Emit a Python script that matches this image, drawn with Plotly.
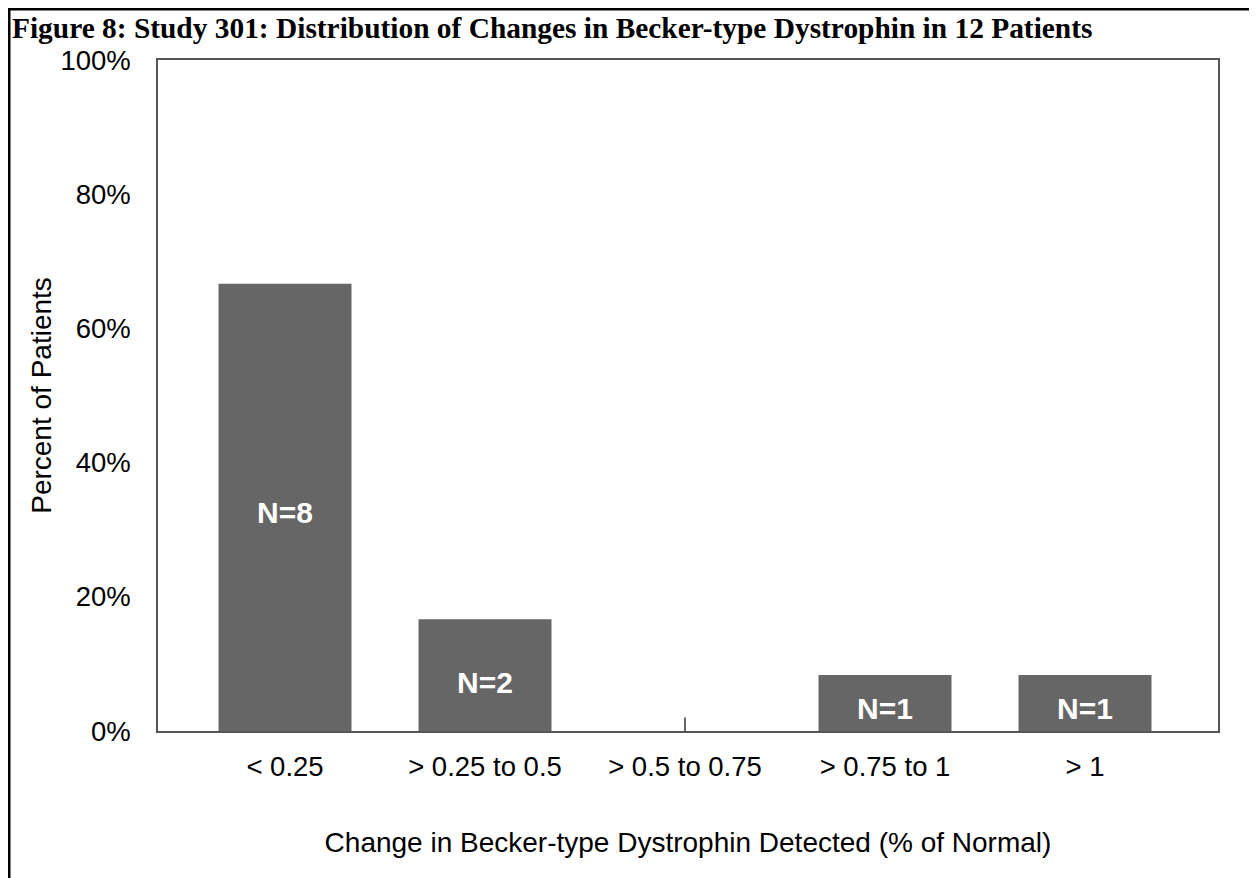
import plotly.graph_objects as go

categories = ["< 0.25", "> 0.25 to 0.5", "> 0.5 to 0.75", "> 0.75 to 1", "> 1"]
percent_patients = [66.67, 16.67, 0, 8.33, 8.33]
n_patients = [8, 2, 0, 1, 1]
y_tick_vals = [0, 20, 40, 60, 80, 100]
y_tick_text = ["0%", "20%", "40%", "60%", "80%", "100%"]

# page body adds an 8px offset; layout is compensated for it
OFF = 8
W, H = 1257, 878
L, T = 158 - OFF, 60 - OFF
R = W - (1218 - OFF)
B = H - (731 - OFF)
pw, ph = W - L - R, H - T - B

BAR = "#666666"
FONT = "Liberation Sans, Arial, Helvetica, sans-serif"

fig = go.Figure()
fig.add_trace(go.Bar(
    x=categories, y=percent_patients, width=0.665,
    marker=dict(color=BAR, line=dict(width=0)),
    hoverinfo="skip", showlegend=False,
))

# small zero-height marker for empty category
fig.add_trace(go.Scatter(
    x=[categories[2], categories[2]], y=[0, 2], mode="lines",
    line=dict(color="#333333", width=1.5), showlegend=False, hoverinfo="skip",
))

shifts = {8: -5, 2: -7, 1: -5}
annotations = []
for c, v, n in zip(categories, percent_patients, n_patients):
    if n > 0:
        annotations.append(dict(
            x=c, y=v / 2, xref="x", yref="y", text=f"<b>N={n}</b>",
            showarrow=False, yshift=shifts.get(n, -5),
            font=dict(family=FONT, size=30, color="white"),
        ))

# outer frame (top and left), drawn at the very edge of the figure
edge = 1.0
shapes = [
    dict(type="line", xref="paper", yref="paper",
         x0=(edge - L) / pw, x1=(W - L) / pw,
         y0=(H - B - edge) / ph, y1=(H - B - edge) / ph,
         line=dict(color="black", width=3)),
    dict(type="line", xref="paper", yref="paper",
         x0=(edge - L) / pw, x1=(edge - L) / pw,
         y0=(H - B) / ph, y1=-B / ph,
         line=dict(color="black", width=3)),
]

fig.update_layout(
    width=W, height=H,
    margin=dict(l=L, r=R, t=T, b=B),
    paper_bgcolor="white", plot_bgcolor="white",
    title=dict(
        text="<b>Figure 8: Study 301: Distribution of Changes in Becker-type Dystrophin in 12 Patients</b>",
        x=(12 - OFF) / W, xanchor="left", xref="container",
        y=1 - (28 - OFF) / H, yanchor="middle", yref="container",
        font=dict(family="Liberation Serif, Times New Roman, serif", size=29.4, color="black"),
    ),
    xaxis=dict(
        range=[-0.635, 4.665],
        showline=True, linecolor="#555555", linewidth=1.5, mirror=True,
        ticks="", showgrid=False, ticklabelstandoff=10,
        tickfont=dict(family=FONT, size=27.5, color="black"),
        title=dict(text="Change in Becker-type Dystrophin Detected (% of Normal)",
                   font=dict(family=FONT, size=28, color="black"), standoff=52),
    ),
    yaxis=dict(
        range=[0, 100],
        tickvals=y_tick_vals, ticktext=y_tick_text,
        showline=True, linecolor="#555555", linewidth=1.5, mirror=True,
        ticks="", showgrid=False, zeroline=False, ticklabelstandoff=20,
        tickfont=dict(family=FONT, size=27.5, color="black"),
        title=dict(text="Percent of Patients",
                   font=dict(family=FONT, size=28, color="black"), standoff=1),
    ),
    annotations=annotations,
    shapes=shapes,
)

fig.write_html("out.html")
